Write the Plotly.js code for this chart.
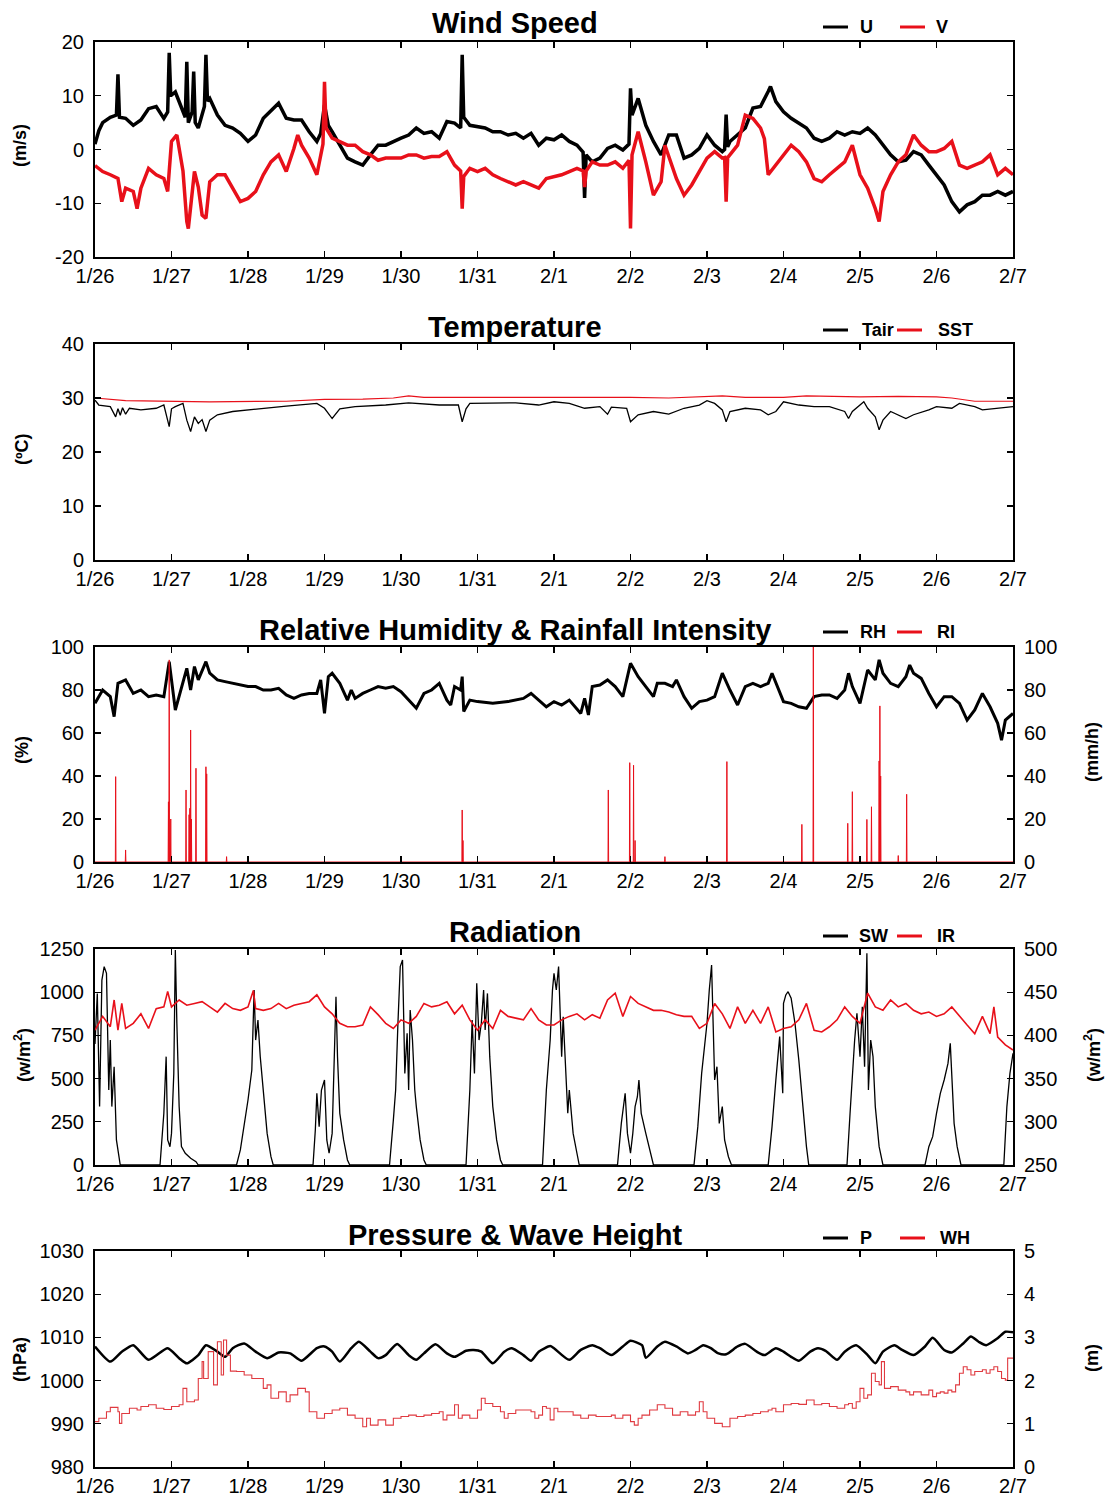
<!DOCTYPE html>
<html><head><meta charset="utf-8">
<script src="https://cdn.plot.ly/plotly-3.0.1.min.js"></script>
<style>body{margin:0;background:#fff}#chart{width:1106px;height:1497px}</style>
</head><body><div id="chart"></div>
<script>
// ---- tick labels (days since 1/26) ----
const dayTicks = [0,1,2,3,4,5,6,7,8,9,10,11,12];
const dayLabels = ['1/26','1/27','1/28','1/29','1/30','1/31','2/1','2/2','2/3','2/4','2/5','2/6','2/7'];

// ---- Wind speed (m/s) ----
const U_t = [0,0.05,0.1,0.2,0.28,0.3,0.32,0.4,0.5,0.6,0.7,0.8,0.9,0.95,0.97,0.99,1.05,1.1,1.18,1.2,1.22,1.27,1.29,1.31,1.35,1.43,1.45,1.47,1.5,1.6,1.7,1.8,1.9,2.0,2.1,2.2,2.3,2.4,2.5,2.6,2.7,2.8,2.9,2.95,3.0,3.05,3.1,3.2,3.3,3.4,3.5,3.6,3.7,3.8,3.9,4.0,4.1,4.2,4.3,4.4,4.5,4.6,4.7,4.78,4.8,4.82,4.9,5.0,5.1,5.2,5.3,5.4,5.5,5.6,5.7,5.8,5.9,6.0,6.1,6.2,6.3,6.38,6.4,6.42,6.5,6.6,6.7,6.8,6.9,6.98,7.0,7.02,7.1,7.2,7.3,7.4,7.5,7.6,7.7,7.8,7.9,8.0,8.1,8.2,8.23,8.25,8.27,8.3,8.4,8.5,8.6,8.7,8.8,8.83,8.9,9.0,9.1,9.2,9.3,9.4,9.5,9.6,9.7,9.8,9.9,10.0,10.1,10.2,10.3,10.4,10.5,10.6,10.7,10.8,10.9,11.0,11.1,11.2,11.3,11.4,11.5,11.6,11.7,11.8,11.9,12.0];
const U_v = [1.0,3.5,5.0,6.0,6.4,14.0,6.0,5.8,4.5,5.5,7.6,8.0,5.8,7.0,18.0,10.0,10.7,8.9,6.0,16.3,5.0,7.0,14.5,5.0,4.0,8.0,17.6,9.0,9.5,6.4,4.5,4.0,3.0,1.5,2.7,5.8,7.3,8.6,5.8,5.5,5.5,3.3,1.5,3.0,8.3,4.5,3.3,0.8,-1.6,-2.3,-2.9,-1.0,0.8,0.8,1.5,2.1,2.7,4.0,3.0,3.3,2.1,5.2,4.9,4.0,17.6,6.0,4.5,4.2,4.0,3.3,3.3,2.7,3.0,2.1,3.0,0.8,2.1,1.8,2.7,1.5,0.8,-0.5,-9.0,-1.0,-2.3,-1.6,0.2,0.8,-0.1,1.0,11.4,6.4,9.5,4.5,1.5,-1.0,2.7,2.7,-1.6,-1.0,0.2,2.7,0.8,-0.4,0.0,6.5,0.5,1.5,2.7,4.0,7.7,8.0,10.8,11.7,8.9,7.0,5.8,4.9,4.0,2.1,1.5,2.1,3.3,2.7,3.3,3.0,4.0,2.7,0.8,-1.0,-2.3,-2.0,-0.4,-1.0,-2.9,-4.7,-6.6,-9.7,-11.6,-10.3,-9.7,-8.5,-8.5,-7.8,-8.5,-7.8];
const V_t = [0,0.1,0.2,0.3,0.35,0.4,0.5,0.55,0.6,0.7,0.8,0.9,0.95,1.0,1.07,1.1,1.15,1.2,1.22,1.3,1.35,1.4,1.45,1.5,1.6,1.7,1.8,1.9,2.0,2.1,2.2,2.3,2.4,2.5,2.6,2.65,2.7,2.8,2.9,2.98,3.0,3.02,3.1,3.2,3.3,3.4,3.5,3.6,3.7,3.8,3.9,4.0,4.1,4.2,4.3,4.4,4.5,4.6,4.7,4.78,4.8,4.82,4.9,5.0,5.1,5.2,5.3,5.4,5.5,5.6,5.7,5.8,5.9,6.0,6.1,6.2,6.3,6.38,6.4,6.42,6.5,6.6,6.7,6.8,6.9,6.98,7.0,7.02,7.1,7.2,7.3,7.4,7.45,7.6,7.7,7.8,7.9,8.0,8.1,8.2,8.23,8.25,8.27,8.3,8.4,8.5,8.6,8.7,8.75,8.8,8.9,9.0,9.1,9.2,9.3,9.4,9.5,9.6,9.7,9.8,9.9,10.0,10.1,10.2,10.25,10.3,10.4,10.5,10.6,10.7,10.8,10.9,11.0,11.1,11.2,11.3,11.4,11.5,11.6,11.7,11.8,11.9,12.0];
const V_v = [-3.0,-4.1,-4.7,-5.4,-9.7,-7.2,-7.8,-11.0,-7.2,-3.5,-4.7,-5.4,-7.8,1.5,2.7,0.2,-4.0,-13.4,-14.7,-4.1,-7.0,-12.2,-12.8,-6.0,-4.7,-4.7,-7.2,-9.7,-9.1,-7.8,-4.7,-2.3,-1.0,-4.1,0.2,2.7,0.8,-1.6,-4.7,1.0,12.6,4.0,2.1,1.5,0.8,0.8,-0.4,-1.0,-2.0,-1.6,-1.6,-1.6,-1.0,-1.0,-1.6,-1.3,-1.3,-0.4,-2.9,-4.0,-11.0,-5.0,-3.5,-4.1,-3.5,-4.7,-5.4,-6.0,-6.6,-6.0,-6.6,-7.2,-5.4,-5.0,-4.7,-4.1,-3.5,-4.0,-7.0,-4.0,-2.3,-2.9,-2.9,-2.3,-3.5,-2.0,-14.7,-1.0,3.3,-2.3,-8.5,-6.0,0.8,-5.4,-8.5,-6.6,-4.1,-1.6,-0.4,-1.6,-1.5,-9.7,-1.5,-1.0,0.8,6.4,5.8,4.0,2.0,-4.7,-2.9,-1.0,0.8,-0.4,-2.3,-5.4,-6.0,-4.7,-3.5,-2.3,0.8,-4.7,-7.2,-11.0,-13.4,-7.8,-4.7,-2.3,-1.0,2.7,0.8,-0.4,-0.4,0.2,1.5,-2.9,-3.5,-2.9,-2.3,-1.0,-4.7,-3.5,-4.7];

// ---- Temperature (ºC) ----
const Tair_t = [0,0.05,0.2,0.27,0.3,0.33,0.36,0.4,0.45,0.6,0.8,0.9,0.97,1.0,1.05,1.15,1.2,1.25,1.3,1.35,1.4,1.45,1.5,1.6,1.8,2.0,2.5,2.9,3.0,3.1,3.2,3.4,3.8,4.1,4.5,4.75,4.8,4.85,4.9,5.5,5.8,6.0,6.2,6.4,6.6,6.7,6.75,6.95,7.0,7.1,7.3,7.5,7.7,7.9,8.0,8.1,8.2,8.25,8.3,8.5,8.7,8.8,8.9,9.0,9.2,9.4,9.6,9.8,9.85,9.9,10.05,10.1,10.2,10.25,10.3,10.4,10.5,10.6,10.7,10.9,11.0,11.2,11.3,11.5,11.6,11.8,12.0];
const Tair_v = [29.6,28.7,28.4,26.5,28.0,26.8,28.2,27.0,28.1,27.8,28.1,28.7,24.7,28.0,28.4,29.0,25.9,23.8,26.5,25.3,26.0,23.8,25.9,26.9,27.5,27.8,28.5,29.0,28.1,26.2,28.0,28.4,28.7,29.1,28.7,28.7,25.6,28.0,29.0,29.1,28.7,29.3,29.0,28.1,28.4,27.0,28.3,28.1,25.6,26.9,27.5,27.0,28.1,28.7,29.5,29.0,27.8,25.6,27.5,28.1,27.8,26.9,27.5,29.3,28.7,28.4,28.4,27.5,26.2,27.5,29.3,28.1,26.5,24.1,25.9,27.5,26.9,26.2,26.9,27.8,28.4,28.1,29.0,28.4,27.8,28.1,28.4];
const SST_t = [0,0.4,1.5,2.5,3.0,3.5,3.9,4.1,4.3,5.0,6.0,6.5,7.0,7.5,8.0,8.2,8.5,9.0,9.3,9.6,10.0,10.5,11.0,11.2,11.5,12.0];
const SST_v = [30.0,29.5,29.3,29.4,29.75,29.8,30.0,30.4,30.1,30.1,30.1,30.2,30.1,30.0,30.2,30.4,30.1,30.1,30.4,30.3,30.2,30.3,30.2,30.0,29.4,29.4];

// ---- Relative humidity (%) and rainfall intensity (mm/h) ----
const RH_t = [0,0.1,0.2,0.25,0.3,0.4,0.5,0.6,0.7,0.8,0.9,0.97,1.05,1.1,1.2,1.25,1.3,1.35,1.45,1.5,1.6,1.7,1.8,1.9,2.0,2.1,2.2,2.3,2.4,2.5,2.6,2.7,2.8,2.9,2.95,3.0,3.05,3.1,3.2,3.3,3.35,3.4,3.5,3.6,3.7,3.8,3.9,4.0,4.1,4.2,4.3,4.4,4.5,4.6,4.65,4.7,4.78,4.8,4.82,4.9,5.0,5.2,5.4,5.6,5.7,5.8,5.9,6.0,6.1,6.2,6.35,6.4,6.45,6.5,6.6,6.7,6.8,6.9,7.0,7.1,7.2,7.3,7.35,7.45,7.55,7.6,7.7,7.8,7.9,8.0,8.1,8.2,8.3,8.4,8.5,8.6,8.7,8.8,8.85,8.9,9.0,9.1,9.2,9.3,9.4,9.5,9.6,9.7,9.8,9.85,9.9,10.0,10.1,10.2,10.25,10.3,10.4,10.5,10.6,10.65,10.7,10.8,10.9,11.0,11.1,11.2,11.3,11.4,11.5,11.6,11.7,11.8,11.85,11.9,12.0];
const RH_v = [73.8,80.0,76.9,67.6,83.1,84.7,78.4,80.0,76.9,77.7,76.9,93.2,70.7,76.9,90.1,80.0,90.9,84.7,93.2,87.8,84.7,83.9,83.1,82.3,81.6,81.6,80.0,80.0,80.8,77.7,76.1,77.7,78.4,78.4,84.7,69.1,86.2,87.8,83.1,75.3,80.0,76.1,78.4,80.0,81.6,80.8,81.6,79.2,75.3,71.5,78.4,80.0,83.1,75.3,73.0,81.6,80.0,86.2,70.0,75.3,74.6,73.8,74.6,76.1,78.4,75.3,72.2,74.6,73.0,75.3,69.1,76.1,68.4,81.6,82.3,84.7,81.6,76.9,92.4,86.2,81.6,76.9,83.1,83.1,81.6,84.7,76.9,71.5,74.6,75.3,76.9,87.8,80.0,73.0,81.6,83.1,81.6,83.1,87.8,83.1,74.6,73.8,72.2,71.5,76.9,77.7,77.7,76.1,80.0,87.8,81.6,73.8,89.3,84.7,94.0,87.8,83.1,81.6,86.2,91.6,87.8,85.4,78.4,72.2,76.9,76.9,73.8,66.0,70.7,78.4,72.2,64.5,56.7,66.0,69.1];
const RI_t = [0.27,0.4,0.96,0.97,0.99,1.19,1.23,1.24,1.25,1.26,1.32,1.45,1.46,1.72,4.8,4.81,6.71,6.99,7.04,7.06,7.45,8.26,9.24,9.39,9.84,9.9,10.09,10.15,10.25,10.26,10.27,10.5,10.61];
const RI_v = [39.7,5.6,28,94,20,33.5,22,25,61.4,20,43.6,44.3,41,2.5,24.2,10,33.5,46.2,45,10,2.5,46.7,17.5,100,18,32.7,19.8,25.7,47,72.6,40,3,31.5];

// ---- Radiation: SW (W/m²), IR (W/m²) ----
const SW_t = [0,0.03,0.06,0.09,0.12,0.15,0.18,0.2,0.22,0.25,0.28,0.31,0.33,
 0.85,0.9,0.93,0.95,0.98,1.0,1.03,1.05,1.07,1.1,1.13,1.18,1.25,1.32,1.35,
 1.85,1.9,1.95,2.0,2.05,2.08,2.1,2.13,2.16,2.2,2.25,2.3,2.33,
 2.85,2.88,2.9,2.93,2.96,3.0,3.03,3.06,3.1,3.13,3.15,3.17,3.2,3.25,3.3,3.33,
 3.85,3.9,3.93,3.96,3.99,4.02,4.05,4.08,4.1,4.12,4.15,4.18,4.2,4.25,4.3,4.33,
 4.85,4.9,4.93,4.96,4.99,5.02,5.05,5.08,5.1,5.13,5.16,5.2,5.25,5.3,5.33,
 5.85,5.9,5.95,5.98,6.0,6.03,6.06,6.08,6.1,6.12,6.15,6.18,6.2,6.25,6.3,6.33,
 6.83,6.88,6.93,6.96,7.0,7.03,7.06,7.09,7.11,7.14,7.2,7.26,7.3,
 7.83,7.88,7.93,7.97,8.0,8.03,8.06,8.08,8.1,8.13,8.16,8.2,8.23,8.28,8.32,
 8.8,8.85,8.9,8.95,8.99,9.0,9.03,9.06,9.1,9.15,9.2,9.25,9.3,9.33,
 9.83,9.87,9.9,9.93,9.96,10.0,10.03,10.06,10.09,10.11,10.14,10.17,10.2,10.25,10.3,
 10.85,10.9,10.95,11.0,11.05,11.1,11.15,11.18,11.2,11.23,11.27,11.32,
 11.88,11.92,11.96,12.0];
const SW_v = [700,993,338,1070,1148,1109,434,723,338,569,145,48,0,
 0,299,627,145,106,183,530,1244,820,338,106,68,39,19,0,
 0,87,222,376,550,1013,723,839,627,415,183,48,0,
 0,203,415,222,434,492,145,68,183,723,974,627,299,145,29,0,
 0,260,434,820,1148,1186,530,762,434,897,723,434,338,145,29,0,
 0,434,839,530,1051,723,820,1013,781,993,627,338,145,29,0,
 0,434,723,1013,1109,1013,1148,916,627,858,530,299,434,183,68,0,
 0,241,415,183,68,183,338,395,492,299,183,68,0,
 0,222,530,685,820,1013,1157,820,492,569,241,338,145,48,0,
 0,222,492,743,415,936,984,1003,965,820,608,338,106,0,
 0,299,530,723,878,627,916,569,1225,434,723,627,338,106,0,
 0,106,164,299,415,492,588,704,530,241,106,0,
 0,338,530,646];
const IR_t = [0,0.1,0.2,0.25,0.3,0.35,0.4,0.5,0.6,0.7,0.8,0.9,0.95,1.0,1.1,1.2,1.3,1.4,1.5,1.6,1.7,1.8,1.9,2.0,2.07,2.1,2.2,2.3,2.4,2.5,2.6,2.7,2.8,2.9,3.0,3.1,3.2,3.3,3.4,3.5,3.6,3.7,3.8,3.9,4.0,4.1,4.2,4.3,4.4,4.5,4.6,4.7,4.8,4.9,5.0,5.1,5.2,5.3,5.4,5.5,5.6,5.7,5.8,5.9,6.0,6.1,6.2,6.3,6.4,6.5,6.6,6.7,6.8,6.9,7.0,7.1,7.2,7.3,7.4,7.5,7.6,7.7,7.8,7.9,8.0,8.1,8.2,8.3,8.4,8.5,8.6,8.7,8.8,8.9,9.0,9.1,9.2,9.3,9.4,9.5,9.6,9.7,9.8,9.9,10.0,10.1,10.2,10.3,10.4,10.5,10.6,10.7,10.8,10.9,11.0,11.1,11.2,11.3,11.4,11.5,11.6,11.7,11.75,11.8,11.9,12.0];
const IR_v = [406,422,410,441,406,437,408,414,425,408,431,433,451,433,441,435,437,439,433,427,437,431,429,433,452,431,429,431,437,431,435,437,439,447,433,425,414,410,410,412,433,424,414,408,418,414,422,437,433,435,439,425,435,418,406,418,408,429,422,420,418,431,418,412,412,418,422,425,418,424,420,441,449,422,445,437,433,429,429,427,424,422,422,408,414,437,425,408,433,414,429,414,433,404,408,410,418,437,406,404,410,418,433,422,414,449,433,429,441,433,437,429,425,427,422,425,433,422,412,402,422,402,433,398,389,383];

// ---- Pressure (hPa) and wave height (m) ----
const P_t = [0,0.2,0.35,0.5,0.7,0.95,1.1,1.2,1.35,1.45,1.6,1.7,1.8,1.95,2.1,2.25,2.4,2.55,2.7,2.9,3.0,3.1,3.2,3.35,3.45,3.6,3.7,3.8,3.95,4.1,4.2,4.3,4.45,4.6,4.7,4.85,4.95,5.05,5.2,5.35,5.45,5.6,5.7,5.8,5.95,6.0,6.2,6.35,6.5,6.6,6.75,6.9,7.0,7.15,7.2,7.35,7.45,7.6,7.75,7.85,7.95,8.05,8.15,8.25,8.4,8.5,8.65,8.75,8.9,9.0,9.1,9.2,9.35,9.45,9.55,9.7,9.8,9.95,10.1,10.2,10.3,10.45,10.55,10.7,10.85,10.95,11.1,11.2,11.35,11.45,11.55,11.65,11.8,11.9,12.0];
const P_v = [1007.9,1004.4,1006.7,1008.2,1004.8,1007.5,1005.2,1004.0,1005.9,1008.2,1006.7,1005.5,1007.5,1008.6,1006.7,1005.2,1006.5,1006.3,1004.6,1007.5,1007.9,1006.7,1004.4,1007.5,1009.0,1006.7,1005.2,1005.9,1008.5,1005.9,1004.8,1006.3,1008.4,1006.3,1005.5,1006.9,1007.1,1006.7,1004.0,1006.7,1007.5,1005.9,1004.6,1006.7,1008.0,1007.5,1004.8,1007.1,1008.2,1007.5,1005.9,1007.9,1009.2,1008.2,1005.3,1007.9,1009.0,1007.9,1006.3,1007.1,1008.2,1007.5,1006.3,1006.1,1007.9,1008.5,1006.7,1005.9,1007.5,1006.7,1005.5,1004.6,1006.7,1007.5,1006.9,1004.8,1006.7,1008.2,1005.9,1004.0,1006.7,1008.2,1007.1,1005.9,1007.9,1009.9,1007.1,1006.5,1008.6,1010.2,1009.0,1008.2,1009.8,1011.3,1011.2];
const WH_t = [0,0.05,0.15,0.2,0.3,0.32,0.35,0.45,0.55,0.6,0.7,0.8,0.9,1.0,1.1,1.15,1.2,1.3,1.35,1.4,1.42,1.48,1.55,1.6,1.65,1.68,1.72,1.77,1.85,1.95,2.05,2.2,2.25,2.3,2.4,2.5,2.55,2.65,2.75,2.8,2.9,3.0,3.1,3.2,3.3,3.4,3.5,3.55,3.6,3.7,3.8,3.9,4.0,4.1,4.2,4.3,4.4,4.5,4.55,4.6,4.7,4.75,4.8,4.9,5.0,5.05,5.1,5.2,5.3,5.35,5.4,5.5,5.6,5.7,5.75,5.8,5.85,5.9,5.95,6.0,6.05,6.15,6.25,6.35,6.45,6.55,6.65,6.75,6.8,6.9,7.0,7.05,7.1,7.15,7.25,7.35,7.45,7.55,7.65,7.75,7.85,7.9,7.95,8.0,8.1,8.2,8.3,8.4,8.5,8.6,8.7,8.8,8.85,8.9,9.0,9.1,9.2,9.3,9.4,9.5,9.6,9.7,9.8,9.85,9.9,9.95,10.0,10.05,10.1,10.15,10.2,10.25,10.28,10.32,10.4,10.5,10.6,10.65,10.7,10.8,10.9,10.95,11.0,11.05,11.1,11.15,11.2,11.25,11.3,11.35,11.4,11.45,11.5,11.6,11.65,11.7,11.75,11.8,11.85,11.9,11.93,12.0];
const WH_v = [1.05,1.13,1.28,1.38,1.28,1.01,1.24,1.36,1.32,1.40,1.44,1.36,1.33,1.40,1.44,1.82,1.51,1.55,2.05,2.44,2.05,2.67,1.90,2.90,2.13,2.94,2.59,2.22,2.21,2.13,2.05,1.82,1.90,1.59,1.74,1.51,1.67,1.82,1.74,1.28,1.13,1.24,1.32,1.36,1.20,1.13,0.93,1.13,0.97,1.09,0.97,1.13,1.17,1.20,1.17,1.20,1.24,1.28,1.09,1.20,1.44,1.13,1.20,1.13,1.32,1.59,1.47,1.40,1.28,1.13,1.24,1.32,1.32,1.28,1.13,1.20,1.40,1.36,1.09,1.36,1.28,1.28,1.20,1.13,1.20,1.17,1.17,1.20,1.13,1.20,1.05,0.97,1.13,1.20,1.32,1.44,1.36,1.20,1.28,1.20,1.28,1.51,1.28,1.13,1.01,0.93,1.13,1.17,1.20,1.24,1.28,1.32,1.36,1.28,1.44,1.47,1.45,1.55,1.44,1.47,1.40,1.36,1.44,1.47,1.36,1.51,1.82,1.59,1.67,2.17,1.98,1.90,2.44,1.82,1.86,1.78,1.74,1.67,1.74,1.67,1.78,1.63,1.71,1.74,1.71,1.78,1.74,1.90,2.17,2.32,2.25,2.13,2.21,2.25,2.17,2.25,2.32,2.21,2.05,2.01,2.52,2.52];

// ---------------------------------------------------------------
const W = 1106, H = 1497;
const fx = px => px / W;
const fy = py => 1 - py / H;
const F = 'Liberation Sans, Arial, sans-serif';
const RED = '#e8101a';
const panelTop = [42, 344, 647, 949, 1251];
const panelBot = [257, 560, 862, 1165, 1467];

// rainfall spikes drawn as thin vertical lines from the zero baseline
const RIx = [0], RIy = [0];
RI_t.forEach((t, i) => { RIx.push(t - 0.004, t, t + 0.004); RIy.push(0, RI_v[i], 0); });
RIx.push(12); RIy.push(0);

const traces = [
  {x: U_t, y: U_v, xaxis: 'x', yaxis: 'y', line: {color: '#000', width: 3.5}},
  {x: V_t, y: V_v, xaxis: 'x', yaxis: 'y', line: {color: RED, width: 3.5}},
  {x: Tair_t, y: Tair_v, xaxis: 'x2', yaxis: 'y2', line: {color: '#000', width: 1.3}},
  {x: SST_t, y: SST_v, xaxis: 'x2', yaxis: 'y2', line: {color: RED, width: 1.2}},
  {x: RH_t, y: RH_v, xaxis: 'x3', yaxis: 'y3', line: {color: '#000', width: 3}},
  {x: RIx, y: RIy, xaxis: 'x3', yaxis: 'y6', line: {color: RED, width: 1}},
  {x: SW_t, y: SW_v, xaxis: 'x4', yaxis: 'y4', line: {color: '#000', width: 1.3}},
  {x: IR_t, y: IR_v, xaxis: 'x4', yaxis: 'y7', line: {color: RED, width: 1.6}},
  {x: P_t, y: P_v, xaxis: 'x5', yaxis: 'y5', line: {color: '#000', width: 2.5, shape: 'spline', smoothing: 0.6}},
  {x: WH_t, y: WH_v, xaxis: 'x5', yaxis: 'y8', line: {color: '#e03a40', width: 1.1, shape: 'hv'}}
].map(t => Object.assign({type: 'scatter', mode: 'lines', hoverinfo: 'skip', showlegend: false}, t));

const tickFont = {family: F, size: 20, color: '#000'};
function xax(i) {
  return {domain: [fx(95), fx(1013)], range: [0, 12], anchor: i === 1 ? 'y' : 'y' + i,
    tickmode: 'array', tickvals: dayTicks, ticktext: dayLabels, ticks: 'inside', ticklen: 6, tickwidth: 1.2,
    tickcolor: '#000', mirror: 'ticks', showline: true, linewidth: 2, linecolor: '#000',
    showgrid: false, zeroline: false, tickfont: tickFont, fixedrange: true};
}
function yax(i, range, vals, text) {
  return {domain: [fy(panelBot[i - 1]), fy(panelTop[i - 1])], range: range, anchor: i === 1 ? 'x' : 'x' + i,
    tickmode: 'array', tickvals: vals, ticktext: text, ticks: 'inside', ticklen: 6, tickwidth: 1.2,
    tickcolor: '#000', mirror: 'ticks', showline: true, linewidth: 2, linecolor: '#000',
    showgrid: false, zeroline: false, tickfont: tickFont, ticklabelstandoff: 5, fixedrange: true};
}
function yright(over, xa, range, vals, text) {
  return {overlaying: over, side: 'right', anchor: xa, range: range, tickmode: 'array', tickvals: vals, ticktext: text,
    ticks: 'inside', ticklen: 6, tickwidth: 1.2, tickcolor: '#000', showline: true, linewidth: 2, linecolor: '#000',
    showgrid: false, zeroline: false, tickfont: tickFont, ticklabelstandoff: 5, fixedrange: true};
}

const titles = ['Wind Speed', 'Temperature', 'Relative Humidity & Rainfall Intensity', 'Radiation', 'Pressure & Wave Height'];
const titleY = [23, 327, 630, 932, 1235];
const legA = ['U', 'Tair', 'RH', 'SW', 'P'];
const legB = ['V', 'SST', 'RI', 'IR', 'WH'];
const legAx = [866, 878, 873, 873, 866];
const legBline = [[900, 925], [897, 922], [897, 922], [897, 922], [900, 925]];
const legBx = [942, 955, 946, 946, 955];
const legY = [27, 330, 632, 936, 1238];

const annotations = [], shapes = [];
titles.forEach((t, i) => {
  annotations.push({text: '<b>' + t + '</b>', x: fx(515), y: fy(titleY[i]), xref: 'paper', yref: 'paper',
    xanchor: 'center', yanchor: 'middle', showarrow: false, font: {family: F, size: 29, color: '#000'}});
  shapes.push({type: 'line', xref: 'paper', yref: 'paper', x0: fx(823), x1: fx(848), y0: fy(legY[i]), y1: fy(legY[i]),
    line: {color: '#000', width: 3}});
  shapes.push({type: 'line', xref: 'paper', yref: 'paper', x0: fx(legBline[i][0]), x1: fx(legBline[i][1]), y0: fy(legY[i]), y1: fy(legY[i]),
    line: {color: RED, width: 3}});
  annotations.push({text: '<b>' + legA[i] + '</b>', x: fx(legAx[i]), y: fy(legY[i]), xref: 'paper', yref: 'paper',
    xanchor: 'center', yanchor: 'middle', showarrow: false, font: {family: F, size: 18, color: '#000'}});
  annotations.push({text: '<b>' + legB[i] + '</b>', x: fx(legBx[i]), y: fy(legY[i]), xref: 'paper', yref: 'paper',
    xanchor: 'center', yanchor: 'middle', showarrow: false, font: {family: F, size: 18, color: '#000'}});
});
const yTitles = [
  ['(m/s)', 20, 146], ['(ºC)', 22, 449], ['(%)', 22, 750], ['(mm/h)', 1092, 752],
  ['(w/m<sup>2</sup>)', 22, 1055], ['(w/m<sup>2</sup>)', 1092, 1055], ['(hPa)', 20, 1360], ['(m)', 1092, 1358]
];
yTitles.forEach(a => annotations.push({text: '<b>' + a[0] + '</b>', x: fx(a[1]), y: fy(a[2]), xref: 'paper', yref: 'paper',
  xanchor: 'center', yanchor: 'middle', textangle: -90, showarrow: false, font: {family: F, size: 18, color: '#000'}}));

const layout = {
  width: W, height: H, margin: {l: 0, r: 0, t: 0, b: 0}, paper_bgcolor: '#fff', plot_bgcolor: '#fff',
  showlegend: false, annotations: annotations, shapes: shapes,
  xaxis: xax(1), xaxis2: xax(2), xaxis3: xax(3), xaxis4: xax(4), xaxis5: xax(5),
  yaxis: yax(1, [-20, 20], [-20, -10, 0, 10, 20], ['-20', '-10', '0', '10', '20']),
  yaxis2: yax(2, [0, 40], [0, 10, 20, 30, 40], ['0', '10', '20', '30', '40']),
  yaxis3: yax(3, [0, 100], [0, 20, 40, 60, 80, 100], ['0', '20', '40', '60', '80', '100']),
  yaxis4: yax(4, [0, 1250], [0, 250, 500, 750, 1000, 1250], ['0', '250', '500', '750', '1000', '1250']),
  yaxis5: yax(5, [980, 1030], [980, 990, 1000, 1010, 1020, 1030], ['980', '990', '1000', '1010', '1020', '1030']),
  yaxis6: yright('y3', 'x3', [0, 100], [0, 20, 40, 60, 80, 100], ['0', '20', '40', '60', '80', '100']),
  yaxis7: yright('y4', 'x4', [250, 500], [250, 300, 350, 400, 450, 500], ['250', '300', '350', '400', '450', '500']),
  yaxis8: yright('y5', 'x5', [0, 5], [0, 1, 2, 3, 4, 5], ['0', '1', '2', '3', '4', '5'])
};
Plotly.newPlot('chart', traces, layout, {staticPlot: true, displayModeBar: false});
</script>
</body></html>
